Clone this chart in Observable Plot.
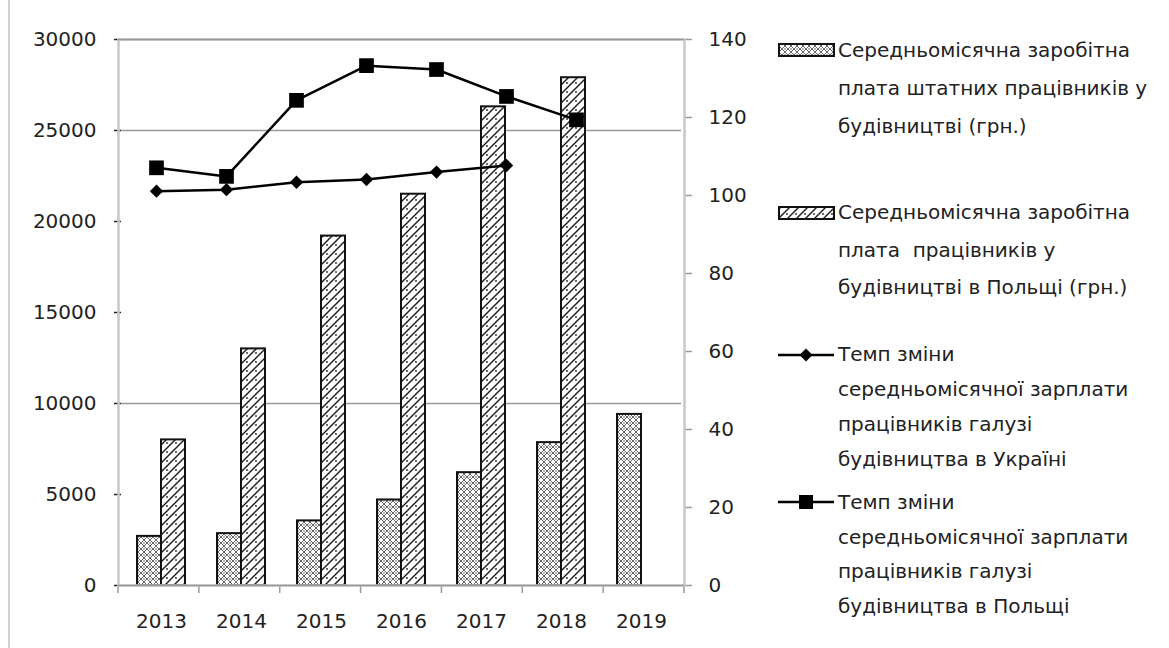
<!DOCTYPE html>
<html><head><meta charset="utf-8">
<script src="https://cdn.jsdelivr.net/npm/d3@7"></script>
<script src="https://cdn.jsdelivr.net/npm/@observablehq/plot@0.6"></script>
<style>
html,body{margin:0;padding:0;background:#fff;}
#wrap{position:relative;width:1169px;height:648px;overflow:hidden;font-family:"DejaVu Sans",sans-serif;color:#222;background:#fff;}
#edge{position:absolute;left:8px;top:0;width:2px;height:648px;background:#d2d2d2;}
#main,#over{position:absolute;left:0;top:0;}
#over{pointer-events:none;}
.leg{position:absolute;left:838px;font-size:20px;white-space:nowrap;color:#222;}
.sw{position:absolute;}
g[aria-label="y-axis tick"], g[aria-label="fx-axis tick"]{stroke:#9a9a9a;stroke-width:1.5;}
g[aria-label="y-axis"] line{stroke:#9a9a9a;stroke-width:1.5;}
</style></head><body>
<div id="wrap"><div id="edge"></div><div id="main"></div><div id="over"></div><div id="legend"></div></div>
<script>
// ---- data ----
const years = ["2013","2014","2015","2016","2017","2018","2019"];
const lineSlots = ["2013","2014","2015","2016","2017","2018","2019","slot8"];
const uaWage = [2700, 2850, 3550, 4700, 6200, 7850, 9400];
const plWage = [8000, 13000, 19200, 21500, 26300, 27900, null];
const uaIndex = [101.1, 101.5, 103.4, 104.1, 106.0, 107.7];
const plIndex = [107.1, 104.9, 124.4, 133.3, 132.3, 125.4, 119.4];
const leftTicks = [0, 5000, 10000, 15000, 20000, 25000, 30000];
const rightTicks = [0, 20, 40, 60, 80, 100, 120, 140];
const gridValues = [10000, 25000, 30000];
const seriesKeys = ["ua", "pl"];
const legendTexts = [
  ["Середньомісячна заробітна", "плата штатних працівників у", "будівництві (грн.)"],
  ["Середньомісячна заробітна", "плата  працівників у", "будівництві в Польщі (грн.)"],
  ["Темп зміни", "середньомісячної зарплати", "працівників галузі", "будівництва в Україні"],
  ["Темп зміни", "середньомісячної зарплати", "працівників галузі", "будівництва в Польщі"]
];

// ---- tables ----
const barData = [];
years.forEach((y, i) => {
  if (uaWage[i] != null) barData.push({year: y, series: "ua", value: uaWage[i]});
  if (plWage[i] != null) barData.push({year: y, series: "pl", value: plWage[i]});
});
const uaLine = uaIndex.map((v, i) => ({year: years[i], value: v}));
const plLine = plIndex.map((v, i) => ({year: years[i], value: v}));

const W = 760, H = 648;
const M = {marginLeft: 118, marginRight: 76, marginTop: 39, marginBottom: 63};
const style = {fontFamily: "DejaVu Sans", fontSize: "20px", color: "#222", background: "transparent", overflow: "visible"};

// ---- main chart: bars + left axis + year axis ----
const main = Plot.plot({
  width: W, height: H, ...M, style,
  facet: {data: barData, x: "year"},
  fx: {domain: years, padding: 0, label: null, axis: "bottom", tickSize: 0, tickPadding: 28},
  x: {domain: seriesKeys, paddingInner: 0, paddingOuter: 0.65, axis: null},
  y: {domain: [0, 30000], ticks: leftTicks, tickSize: 7, tickPadding: 18, label: null, tickFormat: d => String(d)},
  color: {domain: seriesKeys, range: ["url(#pat-ua)", "url(#pat-pl)"]},
  marks: [
    Plot.ruleY(gridValues, {stroke: "#9a9a9a", strokeWidth: 1.5}),
    Plot.barY(barData, {x: "series", y: "value", fill: "series", stroke: "#111", strokeWidth: 2})
  ]
});

const defs = d3.select(main).insert("defs", ":first-child");
const pu = defs.append("pattern").attr("id", "pat-ua").attr("width", 6).attr("height", 6).attr("patternUnits", "userSpaceOnUse");
pu.append("rect").attr("width", 6).attr("height", 6).attr("fill", "#fff");
pu.append("path").attr("d", "M0,3L3,0M3,6L6,3M0,3L3,6M3,0L6,3").attr("stroke", "#555").attr("stroke-width", 0.9).attr("fill", "none");
pu.append("circle").attr("cx", 3).attr("cy", 3).attr("r", 0.7).attr("fill", "#333");
const pp = defs.append("pattern").attr("id", "pat-pl").attr("width", 9).attr("height", 9).attr("patternUnits", "userSpaceOnUse");
pp.append("rect").attr("width", 9).attr("height", 9).attr("fill", "#fff");
pp.append("path").attr("d", "M-1,10L10,-1M-1,1L1,-1M8,10L10,8").attr("stroke", "#222").attr("stroke-width", 1.5).attr("fill", "none");
pp.append("circle").attr("cx", 2).attr("cy", 2).attr("r", 0.9).attr("fill", "#222");
document.getElementById("main").appendChild(main);

// boundary ticks under the category axis, from the fx scale
const fxs = main.scale("fx");
if (fxs && fxs.range) {
  const [r0, r1] = fxs.range;
  const n = fxs.domain.length, step = (r1 - r0) / n;
  const g = d3.select(main).append("g").attr("stroke", "#9a9a9a").attr("stroke-width", 1.5);
  for (let i = 0; i <= n; i++) {
    const xx = r0 + i * step;
    g.append("line").attr("x1", xx).attr("x2", xx).attr("y1", H - M.marginBottom).attr("y2", H - M.marginBottom + 8);
  }
}

// ---- overlay: lines + right axis ----
const over = Plot.plot({
  width: W, height: H, ...M, style,
  x: {type: "point", domain: lineSlots, padding: 0.5, axis: null},
  y: {domain: [0, 140], ticks: rightTicks, axis: "right", tickSize: 7, tickPadding: 17, label: null},
  marks: [
    Plot.frame({stroke: "#c8c8c8", strokeWidth: 2.5}),
    Plot.ruleY([0, 140], {stroke: "#9a9a9a", strokeWidth: 1.5}),
    Plot.line(plLine, {x: "year", y: "value", stroke: "#000", strokeWidth: 2.5}),
    Plot.dot(plLine, {x: "year", y: "value", symbol: "square", r: 8.3, fill: "#000", stroke: "none"}),
    Plot.line(uaLine, {x: "year", y: "value", stroke: "#000", strokeWidth: 2.5}),
    Plot.dot(uaLine, {x: "year", y: "value", symbol: "diamond2", r: 6, fill: "#000", stroke: "none"})
  ]
});
document.getElementById("over").appendChild(over);

// ---- legend ----
const legend = document.getElementById("legend");
const entryTop = [31, 194, 337, 485];
const entryLH = [38, 37.5, 35, 34.5];
legendTexts.forEach((lines, k) => {
  const div = document.createElement("div");
  div.className = "leg";
  div.style.top = entryTop[k] + "px";
  div.style.lineHeight = entryLH[k] + "px";
  div.innerHTML = lines.map(s => s.replace(/  /g, "&nbsp; ")).join("<br>");
  legend.appendChild(div);
  const cy = entryTop[k] + entryLH[k] / 2;
  const ns = "http://www.w3.org/2000/svg";
  const sv = document.createElementNS(ns, "svg");
  sv.setAttribute("class", "sw");
  sv.setAttribute("width", 60); sv.setAttribute("height", 20);
  sv.style.left = "776px"; sv.style.top = (cy - 10) + "px";
  if (k < 2) {
    sv.innerHTML = `<rect x="3" y="4" width="55" height="12" fill="url(#${k === 0 ? "pat-ua" : "pat-pl"})" stroke="#111" stroke-width="2"/>`;
  } else if (k === 2) {
    sv.innerHTML = `<line x1="2" x2="58" y1="10" y2="10" stroke="#000" stroke-width="2.5"/><path d="M30,3.5L36.5,10L30,16.5L23.5,10Z" fill="#000"/>`;
  } else {
    sv.innerHTML = `<line x1="2" x2="58" y1="10" y2="10" stroke="#000" stroke-width="2.5"/><rect x="23" y="3" width="14" height="14" fill="#000"/>`;
  }
  legend.appendChild(sv);
});
</script>
</body></html>
